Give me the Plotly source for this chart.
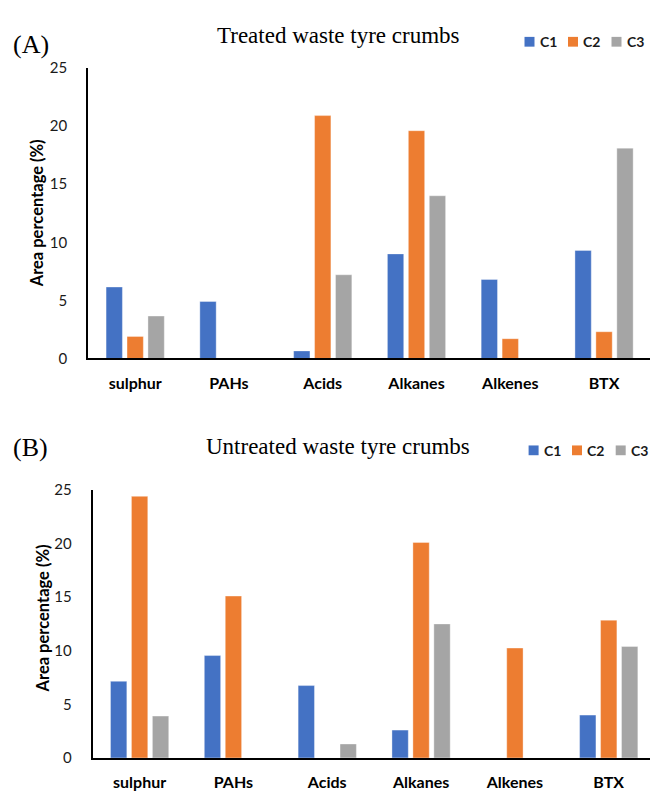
import plotly.graph_objects as go

categories = ["sulphur", "PAHs", "Acids", "Alkanes", "Alkenes", "BTX"]
series_names = ["C1", "C2", "C3"]
colors = ["#4472C4", "#ED7D31", "#A5A5A5"]

# (A) Treated waste tyre crumbs
treated_c1 = [6.15, 4.9, 0.65, 9.0, 6.8, 9.3]
treated_c2 = [1.9, 0, 20.9, 19.6, 1.7, 2.3]
treated_c3 = [3.65, 0, 7.2, 14.0, 0, 18.1]

# (B) Untreated waste tyre crumbs
untreated_c1 = [7.15, 9.55, 6.75, 2.6, 0, 4.0]
untreated_c2 = [24.4, 15.1, 0, 20.1, 10.25, 12.85]
untreated_c3 = [3.9, 0, 1.3, 12.5, 0, 10.4]

yticks = [0, 5, 10, 15, 20, 25]

W, H = 650, 798
def px_x(x):
    return x / W
def px_y(y):
    return 1 - y / H

fig = go.Figure()
for name, col, vals in zip(series_names, colors, [treated_c1, treated_c2, treated_c3]):
    fig.add_trace(go.Bar(x=categories, y=vals, name=name,
                         marker=dict(color=col, line=dict(width=0.6, color="rgba(255,255,255,0.6)")),
                         xaxis="x", yaxis="y", showlegend=False))
for name, col, vals in zip(series_names, colors, [untreated_c1, untreated_c2, untreated_c3]):
    fig.add_trace(go.Bar(x=categories, y=vals, name=name,
                         marker=dict(color=col, line=dict(width=0.6, color="rgba(255,255,255,0.6)")),
                         xaxis="x2", yaxis="y2", showlegend=False))

tickfont = dict(family="Lato", size=15, color="#1a1a1a")
xtickfont = dict(family="Lato", size=16, color="#000000", weight="bold")

common_x = dict(showline=True, linecolor="black", linewidth=2.2, showgrid=False, zeroline=False,
                ticks="", tickfont=xtickfont, ticklabelstandoff=9, fixedrange=True)
common_y = dict(showline=True, linecolor="black", linewidth=2.2, showgrid=False, zeroline=False,
                ticks="", tickfont=tickfont, tickvals=yticks, range=[0, 25], ticklabelstandoff=16,
                fixedrange=True)

fig.update_layout(
    width=W, height=H,
    margin=dict(l=0, r=0, t=0, b=0),
    paper_bgcolor="white", plot_bgcolor="white",
    barmode="group", bargap=0.33, bargroupgap=0.22,
    xaxis=dict(domain=[px_x(88.3), 1], anchor="y", range=[-0.5, 5.49], **common_x),
    yaxis=dict(domain=[px_y(356.5), px_y(59.3)], anchor="x", **common_y),
    xaxis2=dict(domain=[px_x(92.7), 1], anchor="y2", range=[-0.5, 5.44], **common_x),
    yaxis2=dict(domain=[px_y(765.2), px_y(491)], anchor="x2", **common_y),
    showlegend=False,
)

serif = "Liberation Serif"
annotations = [
    dict(text="(A)", x=px_x(31), y=px_y(35), font=dict(family=serif, size=26, color="black")),
    dict(text="Treated waste tyre crumbs", x=px_x(338), y=px_y(26), font=dict(family=serif, size=23, color="black")),
    dict(text="(B)", x=px_x(30), y=px_y(448), font=dict(family=serif, size=26, color="black")),
    dict(text="Untreated waste tyre crumbs", x=px_x(338), y=px_y(447), font=dict(family=serif, size=23, color="black")),
    dict(text="Area percentage (%)", x=px_x(37), y=px_y(208), textangle=-90,
         font=dict(family="Lato", size=16.5, color="black", weight="bold")),
    dict(text="Area percentage (%)", x=px_x(42.5), y=px_y(623), textangle=-90,
         font=dict(family="Lato", size=16.5, color="black", weight="bold")),
]
for a in annotations:
    a.update(xref="paper", yref="paper", showarrow=False, xanchor="center", yanchor="middle")

# legends (manual, compact like the original)
shapes = []
leg_rows = [(32.5, [524.5, 568, 611.5]), (450.5, [528.6, 572, 615.7])]
for yc, xs in leg_rows:
    for name, col, x0 in zip(series_names, colors, xs):
        shapes.append(dict(type="rect", xref="paper", yref="paper",
                           x0=px_x(x0), x1=px_x(x0 + 10), y0=px_y(yc + 5), y1=px_y(yc - 5),
                           fillcolor=col, line=dict(width=0)))
        annotations.append(dict(text=name, xref="paper", yref="paper", showarrow=False,
                                x=px_x(x0 + 13), y=px_y(yc), xanchor="left", yanchor="middle",
                                font=dict(family="Lato", size=14, color="#1a1a1a", weight="bold")))

fig.update_layout(annotations=annotations, shapes=shapes)
fig.write_html("out.html", config={"displayModeBar": False},
               post_script="document.body.style.margin='0';document.body.style.padding='0';document.body.style.overflow='hidden';")
